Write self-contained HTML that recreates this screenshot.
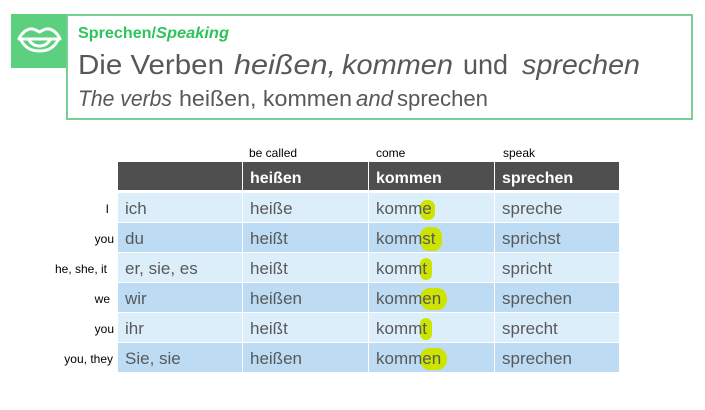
<!DOCTYPE html>
<html><head><meta charset="utf-8"><style>
html,body{margin:0;padding:0;background:#fff;}
svg{display:block;}
</style></head><body>
<svg width="705" height="410" viewBox="0 0 705 410" xmlns="http://www.w3.org/2000/svg">
<rect width="705" height="410" fill="#fff"/>
<rect x="67" y="15" width="625" height="104" fill="none" stroke="#74d192" stroke-width="2"/>
<rect x="11" y="14" width="55" height="54" fill="#5dd07f"/>
<g fill="none" stroke="#fff" stroke-width="3" stroke-linecap="round" stroke-linejoin="round">
<path d="M19,39 C22,32 28,28 33,29 C36,30 38,31 39.5,32 C41,31 43,30 46,29 C51,28 57,32 60,39 Z"/>
<path d="M21,40 C25,48 32,51 39.5,51 C47,51 54,48 58,40"/>
<path d="M29,40 C32,45 36,46 39.5,46 C43,46 47,45 50,40"/>
</g>
<g font-family="Liberation Sans, Arial, sans-serif">
<text x="78" y="38" font-size="16" font-weight="bold" fill="#2ec45b" textLength="78" lengthAdjust="spacingAndGlyphs">Sprechen/</text>
<text x="156" y="38" font-size="16" font-weight="bold" font-style="italic" fill="#2ec45b" textLength="73" lengthAdjust="spacingAndGlyphs">Speaking</text>
<g font-size="28" fill="#585858">
<text x="78" y="74" textLength="146" lengthAdjust="spacingAndGlyphs">Die Verben</text>
<text x="234" y="74" font-style="italic" textLength="102" lengthAdjust="spacingAndGlyphs">heißen,</text>
<text x="342" y="74" font-style="italic" textLength="111" lengthAdjust="spacingAndGlyphs">kommen</text>
<text x="463" y="74" textLength="45" lengthAdjust="spacingAndGlyphs">und</text>
<text x="522" y="74" font-style="italic" textLength="118" lengthAdjust="spacingAndGlyphs">sprechen</text>
</g>
<g font-size="22" fill="#585858">
<text x="78" y="106" font-style="italic" textLength="94" lengthAdjust="spacingAndGlyphs">The verbs</text>
<text x="179" y="106" textLength="173" lengthAdjust="spacingAndGlyphs">heißen, kommen</text>
<text x="356" y="106" font-style="italic" textLength="37" lengthAdjust="spacingAndGlyphs">and</text>
<text x="397" y="106" textLength="91" lengthAdjust="spacingAndGlyphs">sprechen</text>
</g>
<g font-size="12" fill="#000">
<text x="249" y="157">be called</text>
<text x="376" y="157">come</text>
<text x="503" y="157">speak</text>
</g>
<rect x="118" y="162" width="124" height="28" fill="#4f4f4f"/>
<rect x="243" y="162" width="125" height="28" fill="#4f4f4f"/>
<rect x="369" y="162" width="125" height="28" fill="#4f4f4f"/>
<rect x="495" y="162" width="124" height="28" fill="#4f4f4f"/>
<g font-size="16" font-weight="bold" fill="#fff">
<text x="250" y="183">heißen</text>
<text x="376" y="183">kommen</text>
<text x="502" y="183">sprechen</text>
</g>
<g>
<rect x="118" y="193" width="124" height="29" fill="#ddeefb"/><rect x="243" y="193" width="125" height="29" fill="#ddeefb"/><rect x="369" y="193" width="125" height="29" fill="#ddeefb"/><rect x="495" y="193" width="124" height="29" fill="#ddeefb"/>
<rect x="118" y="223" width="124" height="29" fill="#bddcf3"/><rect x="243" y="223" width="125" height="29" fill="#bddcf3"/><rect x="369" y="223" width="125" height="29" fill="#bddcf3"/><rect x="495" y="223" width="124" height="29" fill="#bddcf3"/>
<rect x="118" y="253" width="124" height="29" fill="#ddeefb"/><rect x="243" y="253" width="125" height="29" fill="#ddeefb"/><rect x="369" y="253" width="125" height="29" fill="#ddeefb"/><rect x="495" y="253" width="124" height="29" fill="#ddeefb"/>
<rect x="118" y="283" width="124" height="29" fill="#bddcf3"/><rect x="243" y="283" width="125" height="29" fill="#bddcf3"/><rect x="369" y="283" width="125" height="29" fill="#bddcf3"/><rect x="495" y="283" width="124" height="29" fill="#bddcf3"/>
<rect x="118" y="313" width="124" height="29" fill="#ddeefb"/><rect x="243" y="313" width="125" height="29" fill="#ddeefb"/><rect x="369" y="313" width="125" height="29" fill="#ddeefb"/><rect x="495" y="313" width="124" height="29" fill="#ddeefb"/>
<rect x="118" y="343" width="124" height="29" fill="#bddcf3"/><rect x="243" y="343" width="125" height="29" fill="#bddcf3"/><rect x="369" y="343" width="125" height="29" fill="#bddcf3"/><rect x="495" y="343" width="124" height="29" fill="#bddcf3"/>
</g>
<g fill="#cde300">
<rect x="420" y="200" width="15" height="20" rx="7"/>
<rect x="420" y="227" width="22" height="24" rx="9"/>
<rect x="420" y="258" width="12" height="22" rx="6"/>
<rect x="420" y="288" width="27" height="22" rx="10"/>
<rect x="420" y="318" width="12" height="22" rx="6"/>
<rect x="420" y="348" width="27" height="22" rx="10"/>
</g>
<g font-size="12" fill="#000" text-anchor="end">
<text x="109" y="213">I</text>
<text x="114" y="243">you</text>
<text x="107" y="273">he, she, it</text>
<text x="110" y="303">we</text>
<text x="114" y="333">you</text>
<text x="113" y="363">you, they</text>
</g>
<g font-size="17" fill="#595959">
<text x="125" y="214">ich</text><text x="250" y="214">heiße</text><text x="376" y="214">komme</text><text x="502" y="214">spreche</text>
<text x="125" y="244">du</text><text x="250" y="244">heißt</text><text x="376" y="244">kommst</text><text x="502" y="244">sprichst</text>
<text x="125" y="274">er, sie, es</text><text x="250" y="274">heißt</text><text x="376" y="274">kommt</text><text x="502" y="274">spricht</text>
<text x="125" y="304">wir</text><text x="250" y="304">heißen</text><text x="376" y="304">kommen</text><text x="502" y="304">sprechen</text>
<text x="125" y="334">ihr</text><text x="250" y="334">heißt</text><text x="376" y="334">kommt</text><text x="502" y="334">sprecht</text>
<text x="125" y="364">Sie, sie</text><text x="250" y="364">heißen</text><text x="376" y="364">kommen</text><text x="502" y="364">sprechen</text>
</g>
</g>
</svg>
</body></html>
